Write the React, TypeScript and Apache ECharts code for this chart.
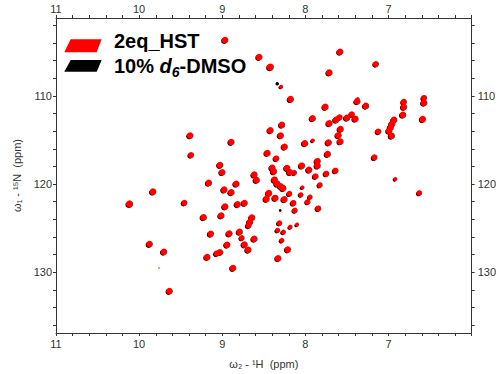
import React, { useEffect, useRef } from "react";
import * as echarts from "echarts";

// Tick labels
const xTickLabels = [11, 10, 9, 8, 7];
const yTickLabels = [110, 120, 130];
const yMinorTicks = [102, 104, 106, 108, 110, 112, 114, 116, 118, 120, 122, 124, 126, 128, 130, 132, 134, 136];

const seriesNames = ["2eq_HST", "10% d6-DMSO"];

// [1H ppm, 15N ppm, relative intensity]
const hstPeaks: number[][] = [
  [8.965, 103.66, 1], [8.555, 105.59, 1], [8.421, 106.72, 1.1], [8.291, 108.95, 0.5],
  [8.177, 110.37, 1], [7.582, 104.99, 1], [7.712, 107.36, 1], [7.151, 106.38, 0.9],
  [7.370, 110.31, 0.4], [7.376, 110.62, 1], [7.272, 111.13, 1], [6.815, 110.68, 0.9],
  [6.815, 111.25, 1], [6.826, 112.15, 1], [6.572, 110.23, 0.9], [6.572, 110.79, 1],
  [6.588, 112.64, 1], [7.760, 111.25, 1], [7.913, 112.55, 1], [7.712, 113.11, 1],
  [7.630, 112.72, 1], [7.588, 112.43, 0.9], [7.500, 112.49, 1], [7.441, 112.09, 0.9],
  [7.399, 112.60, 1], [7.577, 113.77, 1], [7.603, 114.47, 1], [7.579, 115.17, 1],
  [7.122, 114.04, 0.9], [6.933, 112.72, 1], [6.956, 113.17, 1], [6.974, 113.57, 1],
  [6.992, 113.96, 1], [6.962, 114.53, 1], [7.169, 116.98, 0.9], [6.917, 119.43, 0.5],
  [6.629, 121.01, 0.8], [9.386, 114.49, 1], [8.891, 115.23, 1], [9.375, 116.71, 0.9],
  [8.421, 113.91, 1], [8.282, 113.28, 1], [8.297, 114.49, 1], [8.250, 115.77, 1],
  [8.457, 116.49, 1], [8.350, 117.10, 0.9], [8.005, 115.38, 1], [7.910, 115.06, 0.5],
  [7.721, 115.29, 1], [7.732, 116.60, 1], [7.854, 117.41, 1], [7.854, 117.92, 1],
  [8.043, 117.92, 1], [7.955, 118.38, 1], [7.748, 118.83, 0.9], [7.638, 118.49, 0.9],
  [7.878, 119.13, 0.9], [9.026, 117.84, 1], [9.000, 118.66, 1], [9.162, 119.87, 1],
  [8.831, 119.98, 1], [8.976, 120.64, 1], [8.891, 120.95, 1], [9.833, 120.87, 1],
  [10.114, 122.26, 1.1], [9.455, 122.13, 0.9], [8.965, 122.56, 1], [8.815, 122.30, 1],
  [8.732, 122.15, 1], [8.614, 118.94, 1], [8.587, 119.56, 1], [8.398, 118.15, 1],
  [8.380, 118.57, 1], [8.220, 118.18, 1], [8.185, 118.66, 1], [8.134, 118.72, 0.8],
  [8.370, 119.51, 1], [8.339, 119.96, 1], [8.268, 120.47, 1], [8.297, 120.24, 0.9],
  [8.439, 121.04, 1], [8.468, 121.69, 1], [8.362, 121.58, 1], [8.253, 121.74, 1],
  [8.191, 121.09, 0.8], [8.144, 122.15, 0.9], [8.035, 120.38, 0.5], [7.825, 120.11, 0.8],
  [8.053, 121.21, 0.7], [7.943, 121.47, 0.7], [7.972, 122.03, 0.8], [7.845, 122.77, 0.9],
  [8.126, 122.99, 0.8], [9.012, 123.58, 1], [8.642, 123.81, 1], [8.667, 124.32, 1],
  [8.683, 124.71, 0.9], [8.311, 124.43, 0.8], [8.100, 124.60, 0.5], [9.224, 123.78, 1],
  [9.138, 125.65, 1], [8.915, 125.62, 1], [8.791, 125.43, 1], [8.764, 126.11, 0.8],
  [8.614, 126.22, 1], [8.333, 125.25, 0.7], [8.264, 125.45, 0.7], [8.181, 124.88, 0.6],
  [8.282, 126.39, 0.7], [8.941, 126.89, 1], [8.732, 126.87, 1], [8.687, 127.47, 1],
  [8.211, 127.43, 1], [8.327, 128.42, 1], [9.874, 126.81, 1], [9.701, 127.69, 1],
  [9.181, 128.30, 1], [9.067, 127.88, 0.9], [9.027, 127.74, 1], [8.870, 129.53, 1],
  [9.634, 132.15, 1],
];

// DMSO peaks coincide with HST within resolution, plus a few seen only in black
const dmsoOnlyPeaks: number[][] = [
  [8.327, 108.53, 0.5],
  [8.291, 122.90, 0.35],
];
const dmsoPeaks: number[][] = hstPeaks.concat(dmsoOnlyPeaks);

const strayPeaks: number[][] = [[9.76, 129.53]];

const FONT = '"Liberation Sans", Arial, sans-serif';

export default function App() {
  const ref = useRef<HTMLDivElement>(null);
  useEffect(() => {
    if (!ref.current) return;
    const chart = echarts.init(ref.current, undefined, { renderer: "svg" });
    const sizeFn = (v: number[]) => 1.5 + 5.2 * v[2];
    const blackSizeFn = (v: number[]) => 1 + 5 * v[2];
    const axisLineStyle = { color: "#333", width: 1 };
    const xLabelFmt = (v: number) => {
      const r = Math.round(v * 1000) / 1000;
      return xTickLabels.includes(r) ? String(r) : "";
    };
    const xBase = {
      type: "value",
      min: 6,
      max: 11,
      inverse: true,
      interval: 0.2,
      splitLine: { show: false },
      axisLine: { show: true, onZero: false, lineStyle: axisLineStyle },
      axisTick: { show: true, inside: false, length: 3, lineStyle: axisLineStyle },
    };
    const yBase = {
      type: "value",
      min: 101.15,
      max: 136.9,
      inverse: true,
      splitLine: { show: false },
      axisLine: { show: true, onZero: false, lineStyle: axisLineStyle },
      axisTick: { show: true, inside: false, length: 3, customValues: yMinorTicks, lineStyle: axisLineStyle },
    };
    const labelStyle = { fontSize: 11, color: "#333", fontFamily: FONT };
    chart.setOption({
      animation: false,
      grid: { left: 56, right: 19, top: 18, bottom: 40, containLabel: false },
      xAxis: [
        {
          ...xBase,
          position: "bottom",
          axisLabel: { ...labelStyle, interval: 0, margin: 5, formatter: xLabelFmt, showMinLabel: true, showMaxLabel: true },
          name: "ω₂ - ¹H  (ppm)",
          nameLocation: "middle",
          nameGap: 25,
          nameTextStyle: { fontSize: 11, color: "#333", fontFamily: FONT },
        },
        {
          ...xBase,
          position: "top",
          axisLabel: { ...labelStyle, interval: 0, margin: 4, formatter: xLabelFmt, showMinLabel: true, showMaxLabel: true },
        },
      ],
      yAxis: [
        {
          ...yBase,
          position: "left",
          axisLabel: { ...labelStyle, margin: 4, customValues: yTickLabels },
          name: "ω₁ - ¹⁵N  (ppm)",
          nameLocation: "middle",
          nameGap: 32,
          nameTextStyle: { fontSize: 11, color: "#333", fontFamily: FONT },
        },
        {
          ...yBase,
          position: "right",
          axisLabel: { ...labelStyle, margin: 6, customValues: yTickLabels },
        },
      ],
      graphic: [
        {
          type: "polygon",
          shape: { points: [[70.7, 39.3], [101.7, 39.3], [96.7, 52.3], [64.3, 52.3]] },
          style: { fill: "#ff0000" },
        },
        {
          type: "polygon",
          shape: { points: [[70.7, 60], [101.7, 60], [96.7, 71.7], [64.3, 71.7]] },
          style: { fill: "#000000" },
        },
        {
          type: "text",
          x: 114,
          y: 41,
          style: {
            text: "{b|" + seriesNames[0] + "}",
            verticalAlign: "middle",
            rich: { b: { fontSize: 20, fontWeight: "bold", fontFamily: FONT, fill: "#000", lineHeight: 26 } },
          },
        },
        {
          type: "text",
          x: 114,
          y: 65.6,
          style: {
            text: "{b|10% }{i|d}{s|6}{b|-DMSO}",
            verticalAlign: "middle",
            rich: {
              b: { fontSize: 20, fontWeight: "bold", fontFamily: FONT, fill: "#000", lineHeight: 26 },
              i: { fontSize: 20, fontWeight: "bold", fontStyle: "italic", fontFamily: FONT, fill: "#000", lineHeight: 26 },
              s: { fontSize: 14, fontWeight: "bold", fontStyle: "italic", fontFamily: FONT, fill: "#000", lineHeight: 14, verticalAlign: "bottom" },
            },
          },
        },
      ],
      series: [
        {
          type: "scatter",
          name: seriesNames[1],
          xAxisIndex: 0,
          yAxisIndex: 0,
          data: dmsoPeaks,
          symbol: "circle",
          symbolSize: blackSizeFn,
          symbolOffset: [-1, 0.8],
          itemStyle: { color: "#000000", opacity: 1 },
          z: 2,
        },
        {
          type: "scatter",
          name: seriesNames[0],
          xAxisIndex: 0,
          yAxisIndex: 0,
          data: hstPeaks,
          symbol: "circle",
          symbolSize: sizeFn,
          itemStyle: { color: "#ff0000", opacity: 1 },
          z: 3,
        },
        {
          type: "scatter",
          name: "other",
          xAxisIndex: 0,
          yAxisIndex: 0,
          data: strayPeaks,
          symbol: "rect",
          symbolSize: 2,
          itemStyle: { color: "#33dd33" },
          z: 3,
        },
      ],
    });
    return () => chart.dispose();
  }, []);
  return (
    <div
      ref={ref}
      style={{ position: "fixed", left: 0, top: 0, width: 499, height: 374, background: "#fff" }}
    />
  );
}
